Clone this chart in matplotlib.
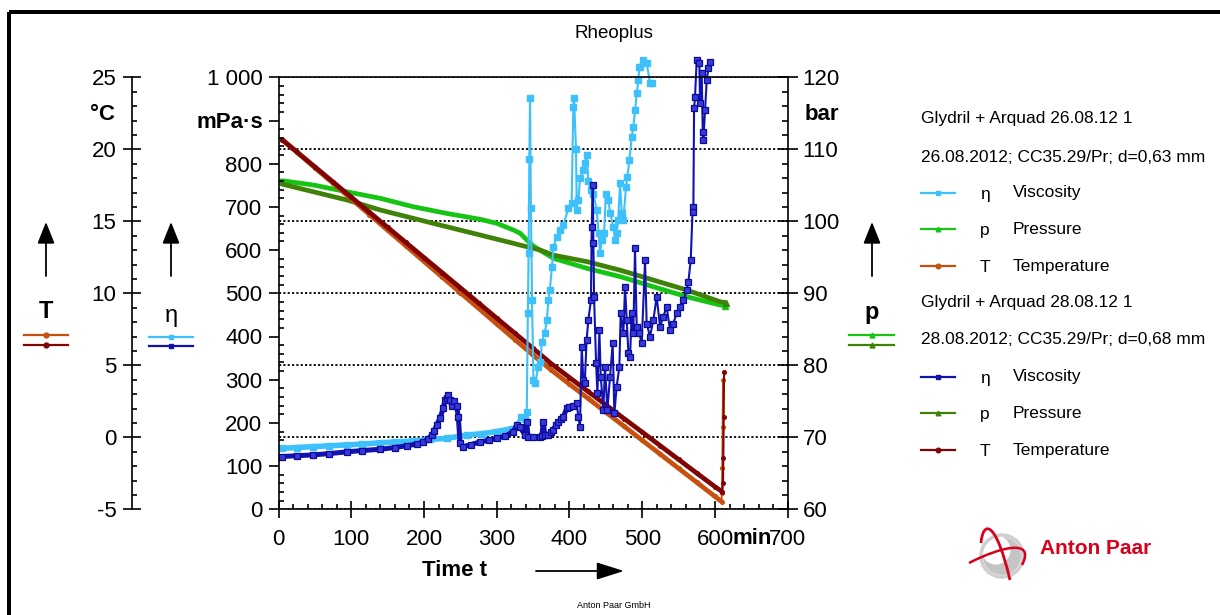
import matplotlib
matplotlib.use('Agg')
import matplotlib.pyplot as plt
from matplotlib.ticker import MultipleLocator, FixedLocator, FixedFormatter
from matplotlib.patches import Rectangle, Circle, PathPatch
from matplotlib.path import Path
import matplotlib.transforms as mtransforms

plt.rcParams['font.family'] = ['Liberation Sans', 'DejaVu Sans']
plt.rcParams['axes.unicode_minus'] = False

# ---------------- data ----------------
# Temperature, series 1 (26.08.12) and series 2 (28.08.12)  [min, degC]
t_T1 = [5, 25, 50, 75, 100, 125, 150, 175, 200, 225, 250, 275, 300, 325, 350,
        375, 400, 425, 450, 475, 500, 525, 550, 575, 600, 609,
        609.5, 610, 610.5, 611]
T1 = [20.67, 19.81, 18.72, 17.64, 16.55, 15.47, 14.38, 13.30, 12.21, 11.13,
      10.04, 8.96, 7.87, 6.79, 5.70, 4.67, 3.69, 2.72, 1.74, 0.77, -0.21,
      -1.18, -2.16, -3.13, -4.11, -4.46, -3.87, -2.15, 0.74, 3.98]
t_T2 = [5, 25, 50, 75, 100, 125, 150, 175, 200, 225, 250, 275, 300, 325, 350,
        375, 400, 425, 450, 475, 500, 525, 550, 575, 600, 610,
        611, 611.5, 612, 612.5]
T2 = [20.67, 19.83, 18.78, 17.73, 16.68, 15.63, 14.58, 13.53, 12.48, 11.43,
      10.38, 9.33, 8.27, 7.22, 6.17, 5.11, 4.15, 3.20, 2.25, 1.30, 0.36,
      -0.59, -1.54, -2.49, -3.43, -3.78, -3.19, -1.46, 1.43, 4.56]

# Pressure [bar]
t_p1 = [4.4, 48, 94, 140, 185, 231, 277, 300, 323, 332, 341, 350, 360, 378,
        424, 470, 515, 561, 607, 614]
p1 = [105.64, 105.04, 104.10, 103.19, 102.03, 101.10, 100.28, 99.72, 98.79,
      98.35, 97.45, 96.60, 95.95, 94.86, 93.47, 92.31, 90.92, 89.53, 88.37, 88.30]
t_p2 = [4.4, 48, 94, 140, 185, 231, 277, 323, 332, 360, 378, 424, 470, 515,
        561, 607, 615]
p2 = [105.18, 104.10, 102.96, 101.57, 100.42, 99.25, 98.10, 96.94, 96.70,
      96.00, 95.30, 94.40, 93.20, 91.85, 90.46, 88.83, 88.70]

# Viscosity, series 1 [mPa.s]
t_v1 = [4.4, 25, 48, 70, 94, 115, 140, 160, 185, 208, 231, 259, 280, 300, 321,
        334, 339, 341.3, 342.8, 343.8, 344.8, 345.8, 347, 348.5, 350.5, 353,
        357, 360, 362, 366, 369, 371, 373, 376, 378, 382.5, 387, 391.6, 398.5,
        403, 405.3, 406.3, 409, 410, 412.2, 414.5, 419, 421.4, 423.7, 426, 429,
        432.8, 437.5, 440, 442, 444.4, 447.6, 450, 453.5, 456, 460.3, 463, 465,
        467, 469.5, 471.9, 474, 477.8, 479.6, 482.4, 485.6, 487.8, 490.2, 492.5,
        494.7, 496.1, 497, 501.6, 506.3, 510.8, 513.1]
v1 = [141, 143, 145, 147, 149, 151, 154, 156, 158, 162, 164, 172, 175, 180, 187,
      214, 210, 226, 454, 593, 810, 953, 697, 484, 300, 292,
      330, 342, 388, 407, 438, 484, 508, 562, 608, 631, 647, 658,
      697, 708, 932, 953, 833, 693, 716, 766, 785, 801, 820, 760, 739,
      731, 693, 639, 593, 623, 640, 731, 716, 685, 654, 623, 640,
      670, 755, 685, 670, 747, 770, 809, 862, 886, 924, 963,
      994, 1025, 1025, 1040, 1032, 986, 986]
v1 = v1[:len(t_v1)]

# Viscosity, series 2 [mPa.s]
t_v2 = [4.4, 25, 48, 70, 94, 115, 140, 160, 176, 190, 199, 205, 210.6, 214,
        217.5, 222, 226.6, 228.9, 231, 233.5, 235.8, 238.1, 241, 245, 247.2,
        249.6, 254, 265, 277, 290, 300, 312, 322.9, 327.5, 332, 338.9, 341.3,
        343, 350, 359.6, 362, 364.1, 366, 370, 374, 377.9, 381, 384.8, 388,
        391.6, 396.3, 400, 405.3, 410, 412.2, 414.4, 416.9, 419, 421, 423.6,
        425.9, 429.5, 430.6, 432, 432.9, 433.8, 436.6, 438.4, 441.1, 443,
        446.6, 448.9, 452.1, 455.8, 459.4, 461.7, 464.9, 468.6, 470.4, 474.1,
        476.4, 478.7, 481, 483.3, 485.5, 487.8, 490.1, 492.4, 496.1, 499.3,
        503.9, 506.1, 510.7, 515.3, 519.9, 524.5, 529, 533.6, 538.2, 542.8,
        547.4, 552, 556.6, 561.2, 563.5, 566.7, 569.4, 570.3, 571.3, 572.6,
        574.9, 578.6, 579.5, 581.8, 583.2, 584.1, 586.4, 588.7, 591, 593.3]
v2 = [122, 124, 126, 129, 133, 136, 139, 143, 147, 151, 156, 162, 172, 182,
      195, 211, 234, 253, 258, 265, 253, 238, 250, 238, 214,
      153, 145, 150, 156, 160, 164, 170, 180, 195, 190, 172, 203,
      167, 167, 168, 170, 203, 171, 172, 178, 184, 195, 203, 208,
      214, 234, 236, 238, 245, 214, 191, 376, 299, 292, 392,
      438, 484, 654, 751, 616, 492, 338, 269, 415, 307,
      230, 330, 230, 307, 384, 222, 284, 330, 454, 407,
      515, 438, 361, 353, 454, 407, 604, 423, 407, 384,
      577, 430, 400, 438, 492, 423, 446, 469, 415, 430,
      454, 469, 484, 508, 527, 577, 700, 689, 928, 955,
      1040, 1032, 940, 1009, 874, 855, 924, 994, 1021, 1036]

# axis ticks / labels
time_ticks = [0, 100, 200, 300, 400, 500, 600, 700]
visc_ticks = [0, 100, 200, 300, 400, 500, 600, 700, 800, 900, 1000]
visc_labels = ['0', '100', '200', '300', '400', '500', '600', '700', '800', '', '1 000']
pres_ticks = [60, 70, 80, 90, 100, 110, 120]
temp_ticks = [-5, 0, 5, 10, 15, 20, 25]

# ---------------- styling ----------------
C_V1 = '#3EC0FA'
C_V2 = '#1212B0'
C_P1 = '#16C414'
C_P2 = '#3E8208'
C_T1 = '#C8500F'
C_T2 = '#800404'

W, H = 1220, 615
fig = plt.figure(figsize=(W / 100, H / 100), dpi=100)
PX = 72 / 100.0  # points per pixel


def fx(px):
    return px / W


def fy(py):
    return 1 - py / H


AL, AR, AT, AB = 278.5, 787.7, 77.3, 509.3
ax = fig.add_axes([fx(AL), fy(AB), (AR - AL) / W, (AB - AT) / H])
ax_p = ax.twinx()
ax_T = ax.twinx()
for a, z in ((ax_p, 1), (ax_T, 2), (ax, 3)):
    a.set_zorder(z)
    a.patch.set_visible(False)

ax.set_xlim(0, 700)
ax.set_ylim(0, 1000)
ax_p.set_ylim(60, 120)
ax_T.set_ylim(-5, 25)

# spines
ax.spines['right'].set_visible(False)
for s in ('left', 'bottom', 'top'):
    ax.spines[s].set_linewidth(1.2)
for s in ('left', 'bottom', 'top'):
    ax_p.spines[s].set_visible(False)
ax_p.spines['right'].set_linewidth(1.2)
for s in ('right', 'bottom', 'top'):
    ax_T.spines[s].set_visible(False)
ax_T.spines['left'].set_visible(True)
ax_T.spines['left'].set_linewidth(1.2)
ax_T.spines['left'].set_position(('axes', (131.7 - AL) / (AR - AL)))
ax_T.yaxis.set_ticks_position('left')
ax_T.yaxis.set_label_position('left')

FS = 16
# x axis
ax.xaxis.set_major_locator(FixedLocator(time_ticks))
ax.xaxis.set_minor_locator(MultipleLocator(20))
ax.tick_params(axis='x', which='major', direction='inout', length=17 * PX,
               width=1.2, labelsize=FS, pad=8, top=False)
ax.tick_params(axis='x', which='minor', direction='in', length=5 * PX,
               width=1.2, top=False)
# viscosity axis
ax.yaxis.set_major_locator(FixedLocator(visc_ticks))
ax.yaxis.set_major_formatter(FixedFormatter(visc_labels))
ax.yaxis.set_minor_locator(MultipleLocator(20))
ax.tick_params(axis='y', which='major', direction='out', length=10 * PX,
               width=1.2, labelsize=FS, pad=6 * PX)
ax.tick_params(axis='y', which='minor', direction='in', length=5 * PX, width=1.2)
# pressure axis
ax_p.yaxis.set_major_locator(FixedLocator(pres_ticks))
ax_p.yaxis.set_minor_locator(MultipleLocator(2))
ax_p.tick_params(axis='y', which='major', direction='inout', length=20 * PX,
                 width=1.2, labelsize=FS, pad=3.5)
ax_p.tick_params(axis='y', which='minor', direction='in', length=6 * PX, width=1.2)
ax_p.yaxis.grid(True, which='major', color='black', lw=1.3,
                linestyle=(0, (1.2, 1.2)))
# temperature axis
ax_T.yaxis.set_major_locator(FixedLocator(temp_ticks))
ax_T.yaxis.set_minor_locator(MultipleLocator(1))
ax_T.tick_params(axis='y', which='major', direction='inout', length=18 * PX,
                 width=1.2, labelsize=FS, pad=4.5, left=True, right=False,
                 labelleft=True, labelright=False)
ax_T.tick_params(axis='y', which='minor', direction='in', length=5 * PX,
                 width=1.2, left=True, right=False)

# ---------------- data lines ----------------
THICK = 3.4
# pressure (dense data -> thick band)
ax_p.plot(t_p1, p1, color=C_P1, lw=THICK, solid_capstyle='round',
          solid_joinstyle='round')
ax_p.plot(t_p2, p2, color=C_P2, lw=THICK, solid_capstyle='round',
          solid_joinstyle='round')
ax_p.plot(t_p1[-1:], p1[-1:], color=C_P1, marker='^', ms=5, lw=0)
ax_p.plot(t_p2[-1:], p2[-1:], color=C_P2, marker='^', ms=5, lw=0)

# temperature
n1 = t_T1.index(609) + 1
n2 = t_T2.index(610) + 1
ax_T.plot(t_T1[:n1], T1[:n1], color=C_T1, lw=THICK, solid_capstyle='round')
ax_T.plot(t_T1, T1, color=C_T1, lw=1.3, marker='o', ms=2.6)
ax_T.plot(t_T2[:n2], T2[:n2], color=C_T2, lw=THICK, solid_capstyle='round')
ax_T.plot(t_T2, T2, color=C_T2, lw=1.5, marker='o', ms=2.6)

# viscosity
k1 = t_v1.index(334)
k2 = t_v2.index(412.2)
ax.plot(t_v1[:k1], v1[:k1], color=C_V1, lw=4.0, solid_capstyle='round',
        clip_on=False)
ax.plot(t_v1, v1, color=C_V1, lw=1.5, marker='s', ms=3.8, mfc=C_V1,
        mec=C_V1, clip_on=False)
ax.plot(t_v2[:k2], v2[:k2], color=C_V2, lw=3.6, solid_capstyle='round',
        clip_on=False)
ax.plot(t_v2, v2, color=C_V2, lw=1.5, marker='s', ms=3.9, mfc='#3a3ad8',
        mec='#0a0a9a', mew=0.9, clip_on=False)

# ---------------- unit labels on the axes ----------------
trT = mtransforms.blended_transform_factory(fig.transFigure, ax_T.transData)
fig.text(fx(115), 22.4, '°C', transform=trT, ha='right', va='center',
         fontsize=FS, fontweight='bold')
trV = mtransforms.blended_transform_factory(fig.transFigure, ax.transData)
fig.text(fx(263.5), 895, 'mPa·s', transform=trV, ha='right', va='center',
         fontsize=FS, fontweight='bold')
trP = mtransforms.blended_transform_factory(fig.transFigure, ax_p.transData)
fig.text(fx(805), 114.8, 'bar', transform=trP, ha='left', va='center',
         fontsize=FS, fontweight='bold')
trX = mtransforms.blended_transform_factory(ax.transData, fig.transFigure)
fig.text(651, fy(539), 'min', transform=trX, ha='center', va='center',
         fontsize=FS, fontweight='bold')

# ---------------- overlay (pixel coordinates) ----------------
ov = fig.add_axes([0, 0, 1, 1])
ov.set_xlim(0, W)
ov.set_ylim(H, 0)
ov.axis('off')
ov.patch.set_visible(False)
ov.set_zorder(10)

# frame
ov.add_patch(Rectangle((9.3, 12.2), 1300, 700, fill=False, ec='black', lw=4 * PX))

ov.text(614, 33, 'Rheoplus', ha='center', va='center', fontsize=13.5)
ov.text(614, 606, 'Anton Paar GmbH', ha='center', va='center', fontsize=6.5)

# axis title with arrow
ov.text(455, 571, 'Time t', ha='center', va='center', fontsize=FS, fontweight='bold')
ov.annotate('', xy=(624, 571), xytext=(536, 571),
            arrowprops=dict(arrowstyle='-|>,head_length=0.7,head_width=0.22',
                            mutation_scale=24, lw=1.3, color='black',
                            shrinkA=0, shrinkB=0))


# axis symbol keys on left/right
def axis_key(xc, label, bold, c_top, c_bot, mk, x0, x1, y_top, y_bot, y_lab):
    ov.annotate('', xy=(xc, 222), xytext=(xc, 276),
                arrowprops=dict(arrowstyle='-|>,head_length=0.55,head_width=0.22',
                                mutation_scale=24, lw=1.3, color='black',
                                shrinkA=0, shrinkB=0))
    ov.text(xc, y_lab, label, ha='center', va='center', fontsize=FS + 1,
            fontweight='bold' if bold else 'normal')
    ov.plot([x0, x1], [y_top, y_top], color=c_top, lw=1.6)
    ov.plot([x0, x1], [y_bot, y_bot], color=c_bot, lw=1.6)
    ov.plot([xc], [y_top], color=c_top, marker=mk, ms=3.5)
    ov.plot([xc], [y_bot], color=c_bot, marker=mk, ms=3.5)


axis_key(46, 'T', True, C_T1, C_T2, 'o', 24, 68, 334.5, 344.5, 312)
axis_key(171, 'η', False, C_V1, C_V2, 's', 149, 193, 336.7, 346, 316)
axis_key(872, 'p', True, C_P1, C_P2, '^', 849, 894, 335.3, 345, 313)

# right legend
LFS = 12.5
rows = [
    (119, 'Glydril + Arquad 26.08.12 1', None, None, None, None),
    (157, '26.08.2012; CC35.29/Pr; d=0,63 mm', None, None, None, None),
    (193, None, C_V1, 's', 'η', 'Viscosity'),
    (229, None, C_P1, '^', 'p', 'Pressure'),
    (266, None, C_T1, 'o', 'T', 'Temperature'),
    (302, 'Glydril + Arquad 28.08.12 1', None, None, None, None),
    (340, '28.08.2012; CC35.29/Pr; d=0,68 mm', None, None, None, None),
    (377, None, C_V2, 's', 'η', 'Viscosity'),
    (413, None, C_P2, '^', 'p', 'Pressure'),
    (450, None, C_T2, 'o', 'T', 'Temperature'),
]
for y, head, col, mk, sym, name in rows:
    if head is not None:
        ov.text(921, y, head, ha='left', va='center', fontsize=LFS)
    else:
        ov.plot([921, 955], [y, y], color=col, lw=1.6)
        ov.plot([938], [y], color=col, marker=mk, ms=3.3)
        ov.text(985, y + 1, sym, ha='center', va='center', fontsize=LFS)
        ov.text(1013, y, name, ha='left', va='center', fontsize=LFS)

# Anton Paar logo
RED = '#D8001B'
ov.add_patch(Circle((1002, 556), 19, fc='#c4c4c4', ec='none'))
ov.add_patch(Circle((996, 550), 14.5, fc='white', ec='none'))
ov.add_patch(Circle((1002, 556), 21, fc='none', ec='#cfcfcf', lw=2.5))
arc1 = Path([(981, 543), (983, 520), (996, 520), (1010, 580)],
            [Path.MOVETO, Path.CURVE4, Path.CURVE4, Path.CURVE4])
ov.add_patch(PathPatch(arc1, fc='none', ec=RED, lw=2.0))
arc2 = Path([(969, 563), (1000, 547), (1036, 538), (1022, 565)],
            [Path.MOVETO, Path.CURVE4, Path.CURVE4, Path.CURVE4])
ov.add_patch(PathPatch(arc2, fc='none', ec=RED, lw=1.8))
ov.text(1040, 549, 'Anton Paar', ha='left', va='center', fontsize=15,
        fontweight='bold', color=RED)

fig.savefig('out.png', dpi=100)
